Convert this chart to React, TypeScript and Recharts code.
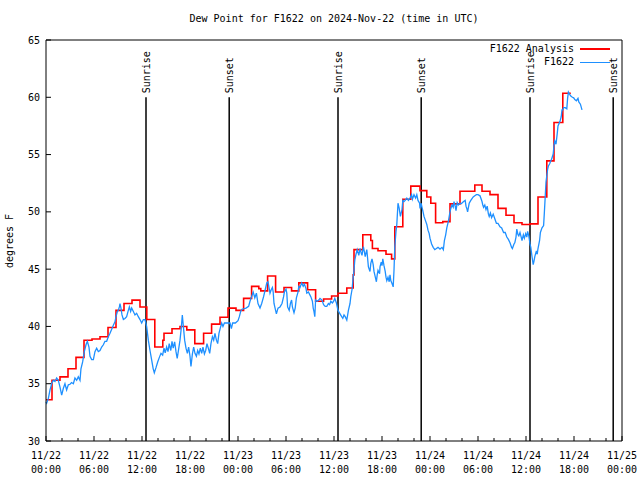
import React from 'react';
import { LineChart, Line, XAxis, YAxis, ReferenceLine } from 'recharts';

const FONT = "'DejaVu Sans Mono', 'Liberation Mono', monospace";
const RED = '#ff0000';
const BLUE = '#1e90ff';

// Hours since 11/22 00:00 UTC, dew point (deg F)
const analysisPoints: [number, number][] = [
  [0, 33.6], [0.75, 35.3], [1.75, 35.6], [2.75, 36.3], [3.75, 37.3], [4.75, 38.8], [5.75, 38.9],
  [6.75, 39.1], [7.75, 39.9], [8.75, 41.4], [9.75, 42.0], [10.75, 42.3], [11.75, 41.7],
  [12.6, 40.6], [13.6, 38.2], [14.6, 38.8], [14.75, 39.4], [15.75, 39.8], [16.75, 40.0],
  [17.6, 39.7], [18.6, 38.5], [19.7, 39.4], [20.7, 40.2], [21.75, 40.8], [22.75, 41.6],
  [23.75, 41.4], [24.7, 42.45], [25.7, 43.5], [26.6, 43.3], [26.85, 43.1], [27.7, 44.4],
  [28.7, 43.0], [29.75, 43.4], [30.7, 43.1], [31.6, 43.8], [32.7, 43.2], [33.7, 42.2],
  [34.7, 42.4], [35.7, 42.65], [36.5, 42.9], [37.6, 43.35], [38.4, 44.5], [38.5, 46.7],
  [39.6, 48.0], [40.6, 47.5], [40.8, 46.8], [41.5, 46.6], [42.5, 46.3], [43.2, 45.9],
  [43.6, 48.7], [44.6, 51.1], [45.6, 52.25], [46.75, 51.85], [47.6, 51.3], [48.1, 50.75],
  [48.7, 49.05], [49.6, 49.15], [50.5, 50.7], [51.75, 51.8], [53.6, 52.35], [54.5, 51.8],
  [55.5, 51.5], [56.5, 50.3], [57.5, 49.7], [58.5, 49.05], [59.5, 48.9], [60.5, 48.95],
  [61.5, 51.3], [62.6, 54.45], [63.5, 57.8], [64.6, 60.35], [65.6, 60.35],
];

const observedPoints: [number, number][] = [
  [0, 33.4], [0.08, 33.3], [0.29, 33.7], [0.5, 34.45], [0.71, 35.0], [0.92, 35.3], [1.12, 35.2],
  [1.33, 35.5], [1.54, 35.3], [1.75, 34.7], [1.96, 34.0], [2.17, 34.6], [2.37, 35.0], [2.58, 34.45],
  [2.79, 34.9], [3.0, 34.95], [3.2, 35.1], [3.42, 35.0], [3.62, 35.5], [3.83, 35.3], [4.04, 35.6],
  [4.25, 35.3], [4.37, 36.3], [4.58, 36.9], [4.79, 37.8], [5.0, 38.4], [5.17, 38.7], [5.37, 38.2],
  [5.5, 37.4], [5.71, 37.1], [5.92, 37.1], [6.12, 37.8], [6.33, 38.1], [6.54, 37.8], [6.75, 37.9],
  [6.96, 38.2], [7.17, 38.4], [7.37, 38.7], [7.58, 38.7], [7.79, 39.1], [8.0, 39.4], [8.21, 39.75],
  [8.42, 40.1], [8.62, 40.4], [8.75, 40.85], [8.92, 41.3], [9.04, 41.4], [9.17, 41.7], [9.25, 42.0],
  [9.37, 41.6], [9.5, 41.0], [9.67, 40.6], [9.87, 40.7], [10.08, 40.85], [10.29, 41.4], [10.42, 41.7],
  [10.58, 41.3], [10.71, 41.6], [10.92, 41.3], [11.12, 41.0], [11.33, 41.15], [11.54, 40.85],
  [11.75, 40.6], [11.96, 40.3], [12.17, 40.6], [12.37, 40.6], [12.58, 40.0], [12.79, 38.8],
  [13.0, 37.9], [13.2, 37.1], [13.4, 36.3], [13.54, 35.96], [13.75, 36.4], [13.96, 36.9],
  [14.17, 37.3], [14.37, 37.65], [14.58, 37.5], [14.75, 38.1], [14.9, 37.7], [15.08, 38.2],
  [15.25, 37.8], [15.4, 38.5], [15.6, 37.9], [15.75, 38.7], [15.9, 38.1], [16.08, 38.65],
  [16.25, 37.8], [16.4, 37.2], [16.6, 38.1], [16.75, 38.8], [16.9, 39.8], [17.04, 41.0],
  [17.17, 40.0], [17.33, 38.8], [17.5, 38.1], [17.67, 37.65], [17.83, 38.2], [18.0, 37.4],
  [18.12, 36.5], [18.3, 37.6], [18.46, 38.2], [18.62, 37.65], [18.8, 37.4], [18.96, 37.9],
  [19.12, 37.6], [19.29, 38.1], [19.46, 37.65], [19.62, 38.2], [19.8, 37.6], [19.96, 37.9],
  [20.12, 38.5], [20.29, 38.1], [20.46, 37.65], [20.62, 38.5], [20.8, 39.1], [20.96, 38.8],
  [21.12, 39.4], [21.3, 38.8], [21.46, 38.5], [21.62, 39.4], [21.8, 39.9], [21.96, 40.3],
  [22.12, 40.0], [22.3, 40.3], [22.6, 40.3], [23.0, 40.3], [23.17, 39.8], [23.33, 40.3],
  [23.67, 40.3], [24.0, 40.5], [24.17, 40.85], [24.33, 41.3], [24.5, 41.5], [25.0, 41.6],
  [25.33, 41.75], [25.5, 42.2], [25.7, 42.6], [25.9, 43.0], [26.1, 42.5], [26.3, 42.9],
  [26.5, 42.0], [26.75, 41.6], [26.96, 42.0], [27.2, 42.6], [27.4, 43.2], [27.6, 43.8],
  [27.75, 43.9], [27.9, 43.3], [28.0, 42.9], [28.15, 43.2], [28.3, 43.4], [28.4, 43.0],
  [28.5, 42.0], [28.7, 41.4], [28.8, 41.1], [29.0, 41.6], [29.25, 41.7], [29.5, 42.0],
  [29.7, 42.6], [29.8, 43.0], [30.0, 43.25], [30.1, 42.9], [30.2, 41.7], [30.4, 41.4],
  [30.55, 42.0], [30.7, 42.3], [30.8, 41.7], [31.0, 41.2], [31.15, 41.6], [31.3, 42.5],
  [31.5, 43.0], [31.6, 43.5], [31.75, 43.4], [31.96, 43.8], [32.15, 43.5], [32.3, 43.7],
  [32.5, 43.3], [32.6, 42.9], [32.8, 43.0], [32.95, 42.8], [33.1, 42.6], [33.3, 42.2],
  [33.4, 41.6], [33.5, 41.3], [33.6, 40.85], [33.7, 42.3], [33.9, 42.2], [34.1, 42.3],
  [34.25, 42.45], [34.5, 42.3], [34.7, 41.9], [34.9, 41.75], [35.1, 41.75], [35.3, 42.0],
  [35.45, 41.9], [35.6, 42.2], [35.8, 42.05], [35.96, 42.2], [36.1, 42.45], [36.3, 42.05],
  [36.5, 41.4], [36.75, 41.1], [36.96, 40.85], [37.1, 40.7], [37.25, 41.0], [37.4, 40.85],
  [37.6, 40.55], [37.8, 41.4], [38.0, 42.0], [38.1, 42.6], [38.25, 43.2], [38.4, 44.3],
  [38.5, 44.9], [38.6, 45.8], [38.75, 46.3], [38.9, 46.7], [39.1, 46.2], [39.25, 46.8],
  [39.4, 46.4], [39.5, 46.2], [39.67, 46.96], [39.8, 46.5], [39.9, 46.1], [40.1, 46.7],
  [40.2, 45.95], [40.3, 45.2], [40.5, 44.8], [40.6, 45.5], [40.75, 45.9], [40.9, 45.4],
  [41.0, 44.8], [41.2, 44.2], [41.3, 43.9], [41.4, 44.5], [41.5, 44.9], [41.7, 44.6],
  [41.75, 45.2], [41.9, 45.6], [42.0, 45.3], [42.1, 45.9], [42.25, 45.3], [42.4, 44.8],
  [42.5, 44.3], [42.6, 44.0], [42.75, 44.3], [42.9, 43.9], [43.0, 44.5], [43.1, 44.0],
  [43.25, 43.75], [43.4, 43.45], [43.5, 44.9], [43.6, 46.98], [43.75, 48.3], [43.85, 48.9],
  [44.0, 50.75], [44.15, 50.3], [44.3, 49.6], [44.5, 50.2], [44.6, 51.0], [44.75, 50.9],
  [44.9, 51.0], [45.1, 51.2], [45.3, 51.0], [45.5, 51.2], [45.7, 51.5], [45.8, 51.1],
  [46.0, 51.5], [46.2, 51.2], [46.35, 51.5], [46.5, 51.0], [46.7, 50.75], [46.75, 50.3],
  [46.9, 50.75], [47.0, 50.4], [47.1, 50.1], [47.25, 49.6], [47.4, 49.3], [47.6, 48.9],
  [47.75, 48.4], [47.9, 48.1], [48.0, 47.7], [48.2, 47.2], [48.4, 46.9], [48.6, 46.7],
  [48.8, 46.8], [49.0, 46.9], [49.25, 46.75], [49.5, 46.9], [49.67, 46.7], [49.8, 47.5],
  [49.96, 48.0], [50.1, 48.6], [50.3, 49.2], [50.45, 49.8], [50.6, 50.3], [50.75, 50.6],
  [50.9, 50.4], [51.0, 50.9], [51.15, 50.5], [51.25, 50.1], [51.4, 50.8], [51.55, 50.6],
  [51.75, 50.75], [51.9, 50.7], [52.2, 50.9], [52.4, 51.0], [52.5, 50.5], [52.6, 50.3],
  [52.7, 50.0], [52.9, 50.75], [53.1, 51.0], [53.4, 51.3], [53.6, 51.4], [53.8, 51.5],
  [54.0, 51.5], [54.25, 51.4], [54.5, 50.9], [54.6, 50.6], [54.7, 50.4], [54.85, 50.6],
  [55.0, 50.2], [55.15, 50.5], [55.3, 49.8], [55.4, 49.6], [55.55, 49.9], [55.7, 49.5],
  [55.9, 49.8], [56.1, 49.4], [56.3, 49.0], [56.5, 49.0], [56.75, 48.7], [56.96, 48.6],
  [57.2, 48.2], [57.4, 48.2], [57.6, 47.8], [57.8, 47.6], [58.0, 47.3], [58.2, 46.9],
  [58.3, 46.8], [58.5, 47.2], [58.6, 47.3], [58.75, 47.8], [58.85, 48.5], [59.0, 48.0],
  [59.1, 47.9], [59.25, 48.2], [59.4, 47.8], [59.5, 47.5], [59.67, 48.0], [59.8, 47.7],
  [59.96, 48.1], [60.1, 47.8], [60.2, 48.3], [60.35, 47.9], [60.5, 47.2], [60.6, 46.9],
  [60.75, 46.1], [60.9, 45.4], [61.0, 45.7], [61.1, 46.1], [61.3, 46.6], [61.4, 46.3],
  [61.5, 46.8], [61.7, 47.5], [61.8, 48.2], [62.0, 48.6], [62.2, 48.8], [62.3, 50.0],
  [62.4, 51.3], [62.5, 52.6], [62.7, 53.7], [62.8, 54.0], [62.96, 54.2], [63.1, 54.45],
  [63.2, 54.6], [63.4, 55.05], [63.5, 55.8], [63.6, 56.2], [63.75, 55.9], [63.9, 56.8],
  [64.0, 57.5], [64.25, 57.9], [64.4, 58.3], [64.5, 58.9], [64.6, 58.9], [64.7, 59.1],
  [64.9, 59.1], [65.1, 59.0], [65.2, 59.9], [65.3, 60.45], [65.5, 60.2], [65.6, 60.1],
  [65.8, 60.0], [65.96, 59.95], [66.1, 59.8], [66.3, 59.7], [66.5, 59.9], [66.6, 59.6],
  [66.8, 59.4], [67.0, 58.9],
];

const xTicks = [0, 2, 4, 6, 8, 10, 12, 14, 16, 18, 20, 22, 24, 26, 28, 30, 32, 34, 36, 38, 40,
  42, 44, 46, 48, 50, 52, 54, 56, 58, 60, 62, 64, 66, 68, 70, 72];
const xMajorDates = ['11/22', '11/22', '11/22', '11/22', '11/23', '11/23', '11/23', '11/23',
  '11/24', '11/24', '11/24', '11/24', '11/25'];
const xMajorTimes = ['00:00', '06:00', '12:00', '18:00', '00:00', '06:00', '12:00', '18:00',
  '00:00', '06:00', '12:00', '18:00', '00:00'];
const yTicks = [30, 35, 40, 45, 50, 55, 60, 65];

const sunEventHours = [12.5, 22.9, 36.5, 46.9, 60.5, 70.9];
const sunEventLabels = ['Sunrise', 'Sunset', 'Sunrise', 'Sunset', 'Sunrise', 'Sunset'];
const sunLineTop = 60;

const seriesNames = ['F1622 Analysis', 'F1622'];
const seriesColors = [RED, BLUE];
const title = 'Dew Point for F1622 on 2024-Nov-22 (time in UTC)';
const yTitle = 'degrees F';

const analysisData = analysisPoints.map(([h, v]) => ({ h, v }));
const observedData = observedPoints.map(([h, v]) => ({ h, v }));

// plot box: x 46..622, y 40..441
const PLOT_TOP = 40;
const PLOT_BOTTOM = 441;
const PLOT_LEFT = 46;
const PLOT_RIGHT = 622;

const BottomTick = (props: any) => {
  const { x, payload } = props;
  const y = PLOT_BOTTOM;
  const h = payload.value;
  const major = h % 6 === 0;
  const idx = h / 6;
  return (
    <g>
      <line x1={x} y1={y} x2={x} y2={y - (major ? 5 : 3)} stroke="#000" strokeWidth={1} />
      {major && (
        <text x={x} y={y + 18} textAnchor="middle" fontSize={10} fontFamily={FONT} fill="#000">
          <tspan x={x}>{xMajorDates[idx]}</tspan>
          <tspan x={x} dy={14}>{xMajorTimes[idx]}</tspan>
        </text>
      )}
    </g>
  );
};

const TopTick = (props: any) => {
  const { x, payload } = props;
  const y = PLOT_TOP;
  const major = payload.value % 6 === 0;
  return <line x1={x} y1={y} x2={x} y2={y + (major ? 5 : 3)} stroke="#000" strokeWidth={1} />;
};

const LeftTick = (props: any) => {
  const { y, payload } = props;
  const x = PLOT_LEFT;
  return (
    <g>
      <line x1={x} y1={y} x2={x + 5} y2={y} stroke="#000" strokeWidth={1} />
      <text x={x - 6} y={y} dy={3.5} textAnchor="end" fontSize={10} fontFamily={FONT} fill="#000">
        {payload.value}
      </text>
    </g>
  );
};

const RightTick = (props: any) => {
  const { y } = props;
  const x = PLOT_RIGHT;
  return <line x1={x} y1={y} x2={x - 5} y2={y} stroke="#000" strokeWidth={1} />;
};

const makeSunLabel = (text: string) => (props: any) => {
  const vb = props.viewBox || {};
  const x = (vb.x ?? 0) + 4;
  const y = (vb.y ?? 0) - 4;
  return (
    <text x={x} y={y} transform={`rotate(-90 ${x} ${y})`} textAnchor="start" fontSize={10}
      fontFamily={FONT} fill="#000">
      {text}
    </text>
  );
};

const axisLineStyle = { stroke: '#000', strokeWidth: 1 };

export default function App() {
  return (
    <div style={{ position: 'absolute', left: 0, top: 0, width: 640, height: 480, background: '#fff', fontFamily: FONT }}>
      <div style={{ position: 'absolute', left: 0, top: 0 }}>
        <LineChart width={640} height={480} margin={{ top: PLOT_TOP - 1, right: 640 - PLOT_RIGHT - 1, bottom: 480 - PLOT_BOTTOM - 1, left: PLOT_LEFT - 1 }}>
          <XAxis dataKey="h" type="number" domain={[0, 72]} ticks={xTicks} interval={0}
            height={1} tickSize={0} tickMargin={0} tickLine={false} tick={BottomTick}
            axisLine={axisLineStyle} />
          <XAxis xAxisId="top" orientation="top" dataKey="h" type="number" domain={[0, 72]} ticks={xTicks}
            interval={0} height={1} tickSize={0} tickMargin={0} tickLine={false} tick={TopTick}
            axisLine={axisLineStyle} />
          <YAxis type="number" domain={[30, 65]} ticks={yTicks} interval={0} width={1} tickSize={0}
            tickMargin={0} tickLine={false} tick={LeftTick} axisLine={axisLineStyle} />
          <YAxis yAxisId="right" orientation="right" type="number" domain={[30, 65]} ticks={yTicks}
            interval={0} width={1} tickSize={0} tickMargin={0} tickLine={false} tick={RightTick}
            axisLine={axisLineStyle} />
          {sunEventHours.map((h, i) => (
            <ReferenceLine key={`sun-${i}`} segment={[{ x: h, y: sunLineTop }, { x: h, y: 30 }]}
              stroke="#000" strokeWidth={1.5} label={makeSunLabel(sunEventLabels[i])} />
          ))}
          <Line data={analysisData} dataKey="v" name={seriesNames[0]} type="stepAfter" stroke={RED}
            strokeWidth={1.6} dot={false} activeDot={false} isAnimationActive={false} />
          <Line data={observedData} dataKey="v" name={seriesNames[1]} type="linear" stroke={BLUE}
            strokeWidth={1.3} dot={false} activeDot={false} isAnimationActive={false} />
        </LineChart>
      </div>
      <div style={{ position: 'absolute', left: 46, top: 13, width: 576, textAlign: 'center', fontSize: 10, lineHeight: '12px', color: '#000' }}>
        {title}
      </div>
      <div style={{ position: 'absolute', left: -40, top: 235, width: 100, height: 12, lineHeight: '12px', textAlign: 'center', fontSize: 10, transform: 'rotate(-90deg)', color: '#000' }}>
        {yTitle}
      </div>
      {seriesNames.map((name, i) => (
        <div key={name} style={{ position: 'absolute', left: 400, top: 43 + i * 13, width: 210, height: 12, display: 'flex', alignItems: 'center', justifyContent: 'flex-end', fontSize: 10, lineHeight: '12px', color: '#000' }}>
          <span>{name}</span>
          <span style={{ display: 'inline-block', width: 30, height: i === 0 ? 2 : 1, background: seriesColors[i], marginLeft: 6 }} />
        </div>
      ))}
    </div>
  );
}
